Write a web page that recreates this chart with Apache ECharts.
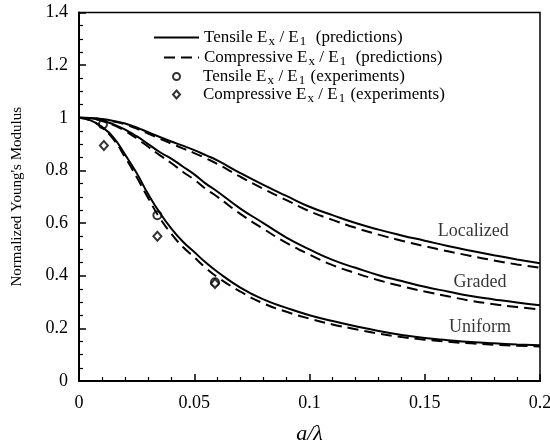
<!DOCTYPE html>
<html>
<head>
<meta charset="UTF-8">
<title>Normalized Young's Modulus</title>
<script src="https://cdn.jsdelivr.net/npm/echarts@6/dist/echarts.min.js"></script>
<style>
  html, body { margin: 0; padding: 0; background: #fff; }
  #main { width: 550px; height: 442px; }
</style>
</head>
<body>
<div id="main"></div>
<script>
// a/lambda values shared by all prediction curves
var xs = [0, 0.005, 0.01, 0.015, 0.02, 0.025, 0.03, 0.035, 0.04, 0.045, 0.05, 0.055, 0.06,
  0.07, 0.08, 0.09, 0.1, 0.11, 0.12, 0.13, 0.14, 0.15, 0.16, 0.17, 0.18, 0.19, 0.2];

// predictions (solid = tensile, dashed = compressive)
var uniformTen = [1, 0.99, 0.965, 0.925, 0.86, 0.79, 0.71, 0.64, 0.58, 0.53, 0.49, 0.45, 0.415,
  0.355, 0.31, 0.278, 0.25, 0.228, 0.208, 0.19, 0.175, 0.163, 0.155, 0.148, 0.143, 0.139, 0.136];
var uniformCom = [1, 0.99, 0.962, 0.918, 0.85, 0.775, 0.695, 0.62, 0.56, 0.51, 0.47, 0.43, 0.395,
  0.34, 0.295, 0.263, 0.237, 0.215, 0.197, 0.18, 0.167, 0.157, 0.149, 0.143, 0.138, 0.134, 0.131];
var gradedTen = [1, 0.998, 0.99, 0.975, 0.955, 0.93, 0.9, 0.87, 0.845, 0.815, 0.785, 0.75, 0.72,
  0.655, 0.6, 0.545, 0.5, 0.46, 0.43, 0.402, 0.38, 0.358, 0.34, 0.323, 0.31, 0.298, 0.288];
var gradedCom = [1, 0.997, 0.988, 0.972, 0.95, 0.922, 0.89, 0.858, 0.828, 0.795, 0.765, 0.73, 0.7,
  0.635, 0.578, 0.525, 0.48, 0.44, 0.41, 0.383, 0.36, 0.34, 0.322, 0.305, 0.292, 0.281, 0.272];
var localTen = [1, 0.999, 0.995, 0.988, 0.978, 0.963, 0.945, 0.927, 0.91, 0.894, 0.877, 0.858, 0.838,
  0.79, 0.745, 0.703, 0.662, 0.63, 0.6, 0.575, 0.553, 0.533, 0.513, 0.495, 0.478, 0.462, 0.447];
var localCom = [1, 0.999, 0.994, 0.986, 0.975, 0.959, 0.94, 0.921, 0.902, 0.884, 0.866, 0.846, 0.825,
  0.776, 0.73, 0.687, 0.645, 0.612, 0.582, 0.556, 0.533, 0.512, 0.493, 0.475, 0.458, 0.443, 0.43];

// experiments
var expTenX = [0.0104, 0.034, 0.059];
var expTenY = [0.975, 0.63, 0.375];
var expComX = [0.0108, 0.034, 0.059];
var expComY = [0.895, 0.55, 0.37];

// curve labels
var curveNames = ['Localized', 'Graded', 'Uniform'];
var curveNameX = [0.171, 0.174, 0.174];
var curveNameY = [0.57, 0.376, 0.205];

var xTicks = [0, 0.05, 0.1, 0.15, 0.2];
var yTicks = [0, 0.2, 0.4, 0.6, 0.8, 1, 1.2, 1.4];

function pairs(x, y) {
  var out = [];
  for (var i = 0; i < x.length; i++) out.push([x[i], y[i]]);
  return out;
}

var serif = 'Liberation Serif';

var legendText = {
  'Tensile pred': '{n|Tensile E}{s|x}{n|\u2009/ E}{s|1}{n|  (predictions)}',
  'Compressive pred': '{n|Compressive E}{s|x}{n|\u2009/ E}{s|1}{n|  (predictions)}',
  'Tensile exp': '{g| }{n|Tensile E}{s|x}{n|\u2009/ E}{s|1}{n| (experiments)}',
  'Compressive exp': '{g| }{n|Compressive E}{s|x}{n|\u2009/ E}{s|1}{n| (experiments)}'
};

// one legend per row so every row can sit where the original has it
function makeLegend(name, left, top, w, h, isLine) {
  var lg = {
    data: [name],
    left: left,
    top: top,
    padding: 0,
    itemWidth: w,
    itemHeight: h,
    itemGap: 0,
    selectedMode: false,
    formatter: function (n) { return legendText[n]; },
    textStyle: {
      rich: {
        g: { width: 18 },
        n: { fontFamily: serif, fontSize: 17, color: '#000' },
        s: { fontFamily: serif, fontSize: 13, color: '#000', padding: [9, 1, 0, 1] }
      }
    }
  };
  // hide the dot that line icons get, keep only the stroke
  if (isLine) lg.itemStyle = { color: 'transparent', borderColor: 'transparent', borderWidth: 0 };
  return lg;
}

function predLine(name, data, dashed) {
  return {
    name: name,
    type: 'line',
    smooth: true,
    symbol: 'none',
    data: pairs(xs, data),
    lineStyle: { color: '#000', width: 2, type: dashed ? [11, 6] : 'solid' },
    itemStyle: { color: '#000' }
  };
}

var myChart = echarts.init(document.getElementById('main'));

var option = {
  animation: false,
  backgroundColor: '#fff',
  grid: {
    left: 79, right: 10, top: 12.5, bottom: 61,
    outerBoundsMode: 'none',
    show: true, borderColor: '#000', borderWidth: 1.5
  },
  legend: [
    makeLegend('Tensile pred', 153, 29, 45, 10, true),
    makeLegend('Compressive pred', 163, 49, 35, 10, true),
    makeLegend('Tensile exp', 172, 68, 7, 7, false),
    makeLegend('Compressive exp', 172, 86, 7, 8, false)
  ],
  xAxis: {
    type: 'value',
    min: xTicks[0],
    max: xTicks[xTicks.length - 1],
    interval: 0.05,
    name: 'a/λ',
    nameLocation: 'middle',
    nameGap: 42,
    nameTextStyle: { fontFamily: serif, fontStyle: 'italic', fontSize: 22, color: '#000' },
    axisLine: { lineStyle: { color: '#000', width: 2 } },
    axisTick: { inside: true, length: 7, lineStyle: { color: '#000', width: 1.5 } },
    minorTick: { show: true, splitNumber: 5, length: 4, lineStyle: { color: '#000', width: 1.2 } },
    splitLine: { show: false },
    axisLabel: { fontFamily: serif, fontSize: 18, color: '#000', margin: 13 }
  },
  yAxis: {
    type: 'value',
    min: yTicks[0],
    max: yTicks[yTicks.length - 1],
    interval: 0.2,
    name: "Normalized Young's Modulus",
    nameLocation: 'middle',
    nameGap: 54,
    nameTextStyle: { fontFamily: serif, fontSize: 15, color: '#000' },
    axisLine: { lineStyle: { color: '#000', width: 2 } },
    axisTick: { inside: true, length: 7, lineStyle: { color: '#000', width: 1.5 } },
    minorTick: { show: true, splitNumber: 4, length: 4, lineStyle: { color: '#000', width: 1.2 } },
    splitLine: { show: false },
    axisLabel: { fontFamily: serif, fontSize: 18, color: '#000', margin: 11 }
  },
  series: [
    predLine('Tensile pred', localTen, false),
    predLine('Compressive pred', localCom, true),
    predLine('Tensile pred', gradedTen, false),
    predLine('Compressive pred', gradedCom, true),
    predLine('Tensile pred', uniformTen, false),
    predLine('Compressive pred', uniformCom, true),
    {
      name: 'Tensile exp',
      type: 'scatter',
      symbol: 'emptyCircle',
      symbolSize: 8,
      itemStyle: { color: '#000', borderColor: '#000', borderWidth: 1.2 },
      data: pairs(expTenX, expTenY)
    },
    {
      name: 'Compressive exp',
      type: 'scatter',
      symbol: 'emptyDiamond',
      symbolSize: [8, 9],
      itemStyle: { color: '#000', borderColor: '#000', borderWidth: 1.2 },
      data: pairs(expComX, expComY)
    },
    {
      name: 'labels',
      type: 'scatter',
      symbolSize: 0,
      silent: true,
      data: curveNames.map(function (n, i) { return { name: n, value: [curveNameX[i], curveNameY[i]] }; }),
      label: {
        show: true,
        position: 'inside',
        formatter: '{b}',
        fontFamily: serif,
        fontSize: 18,
        color: '#000'
      }
    }
  ]
};

myChart.setOption(option);
</script>
</body>
</html>
